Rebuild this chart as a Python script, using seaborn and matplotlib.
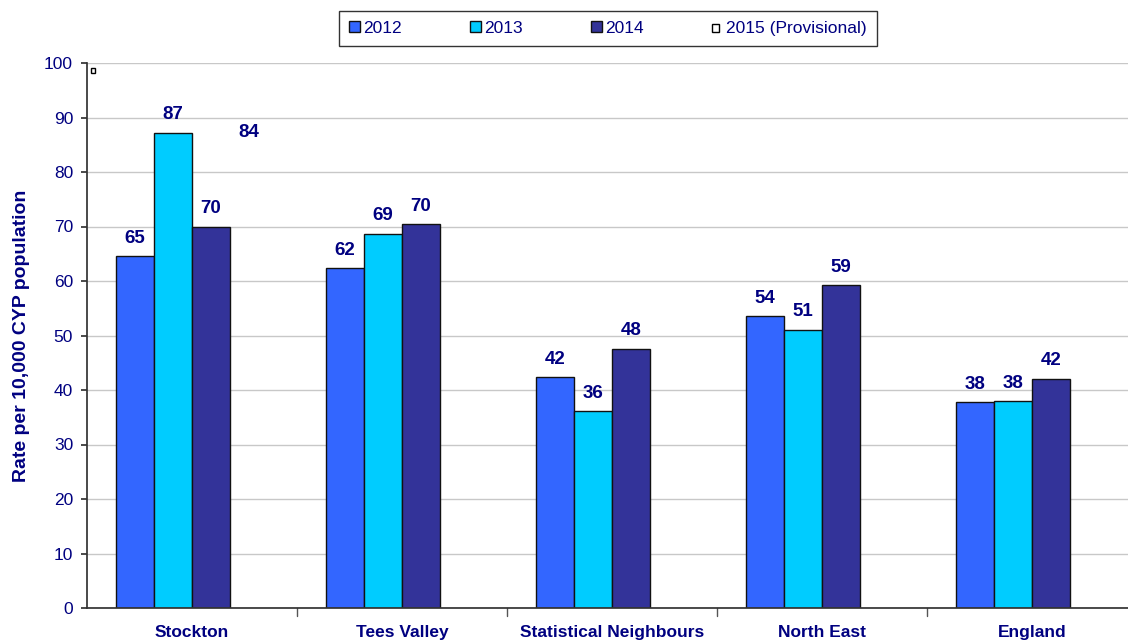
import matplotlib
matplotlib.use("Agg")
import matplotlib.pyplot as plt
from matplotlib.patches import Patch
import seaborn as sns
import pandas as pd
import numpy as np

categories = ["Stockton", "Tees Valley", "Statistical Neighbours", "North East", "England"]
series = ["2012", "2013", "2014", "2015 (Provisional)"]
vals_2012 = [64.6, 62.4, 42.4, 53.6, 37.8]
vals_2013 = [87.2, 68.7, 36.1, 51.1, 37.9]
vals_2014 = [70.0, 70.4, 47.6, 59.2, 42.1]
vals_2015 = [84.0, None, None, None, None]

colors = ["#3366FF", "#00CCFF", "#333399", "#FFFFFF"]
navy = "#000080"

rows = []
for s, vals in zip(series, [vals_2012, vals_2013, vals_2014, vals_2015]):
    for c, v in zip(categories, vals):
        rows.append({"Area": c, "Year": s, "Rate": v})
df = pd.DataFrame(rows)

sns.set_theme(style="white")
plt.rcParams["font.family"] = ["Liberation Sans", "DejaVu Sans"]

fig = plt.figure(figsize=(11.28, 6.4), dpi=100)
ax = fig.add_axes([87 / 1128, 1 - 608 / 640, 1050 / 1128, 545 / 640])

sns.barplot(data=df, x="Area", y="Rate", hue="Year", order=categories,
            hue_order=series, palette=colors, width=0.724, saturation=1,
            edgecolor="#111111", linewidth=1.0, ax=ax, legend=False, errorbar=None)

# the provisional bar has no fill and no outline; only its value is shown
for bar in ax.containers[3]:
    bar.set_facecolor("none")
    bar.set_edgecolor("none")

for cont in ax.containers:
    for bar in cont:
        h = bar.get_height()
        if h is None or np.isnan(h) or h == 0:
            continue
        ax.text(bar.get_x() + bar.get_width() / 2, h + 1.7, f"{h:.0f}",
                ha="center", va="bottom", fontsize=13.5, fontweight="bold", color=navy)

ax.set_ylim(0, 100)
ax.set_xlim(-0.5, 4.5)
ax.set_yticks(range(0, 101, 10))
ax.yaxis.grid(True, color="#c8c8c8", linewidth=1)
ax.set_axisbelow(True)
ax.tick_params(axis="y", labelsize=12.5, labelcolor=navy, length=4, color="#333333",
               left=True, direction="out", pad=6)
ax.set_xticks(range(len(categories)))
ax.set_xticklabels(categories, fontsize=12.5, fontweight="bold", color=navy)
ax.tick_params(axis="x", length=0, pad=12)
for xb in np.arange(0.5, 4.5, 1.0):
    ax.plot([xb, xb], [0, -1.5], color="#555555", lw=1, clip_on=False)
ax.set_xlabel("")
ax.set_ylabel("Rate per 10,000 CYP population", fontsize=14, fontweight="bold",
              color=navy, labelpad=10)
for side in ["top", "right"]:
    ax.spines[side].set_visible(False)
ax.spines["left"].set_color("#333333")
ax.spines["bottom"].set_color("#333333")

# small marker in the top-left corner of the plot area
ax.add_patch(plt.Rectangle((0.0035, 0.981), 0.004, 0.009, transform=ax.transAxes,
                           facecolor="white", edgecolor="black", lw=1, clip_on=False))

handles = [Patch(facecolor=c, edgecolor="#111111", linewidth=1) for c in colors[:3]]
handles.append(Patch(facecolor="white", edgecolor="black", linewidth=1))
leg = fig.legend(handles, series, loc="center", bbox_to_anchor=(608 / 1128, 1 - 28.5 / 640),
                 ncol=4, frameon=True, fancybox=False, edgecolor="black", fontsize=12.5,
                 handlelength=0.6, handleheight=0.6, handletextpad=0.2, columnspacing=3.95,
                 borderpad=0.6, borderaxespad=0, labelcolor=navy)
leg.get_frame().set_linewidth(1)
leg.legend_handles[3].set_width(leg.legend_handles[3].get_width() * 0.6)
leg.legend_handles[3].set_height(leg.legend_handles[3].get_height() * 0.8)

fig.savefig("out.png", dpi=100)
